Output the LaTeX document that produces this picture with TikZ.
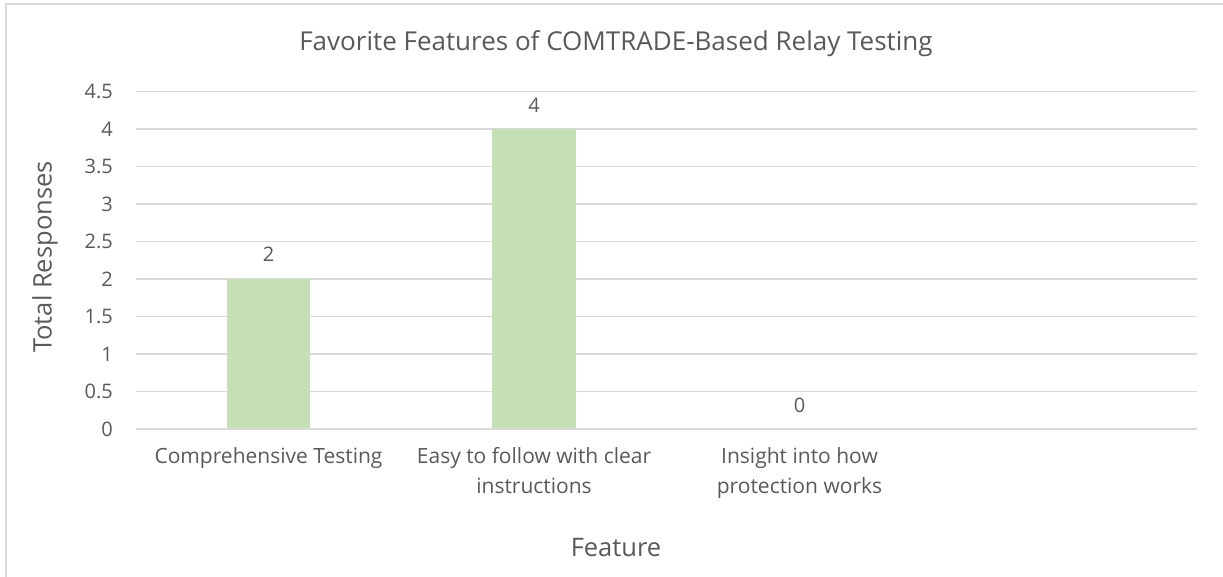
\documentclass[tikz,border=0pt]{standalone}
\usepackage{fontspec}
\setmainfont{Open Sans}
\usetikzlibrary{calc}

\begin{document}
\begin{tikzpicture}[x=1pt,y=-1pt,
    ticklabel/.style={inner sep=0pt, text=axistext, font=\fontsize{20}{24}\selectfont},
    catlabel/.style={inner sep=0pt, anchor=north, align=center, text=axistext, font=\fontsize{21}{30}\selectfont},
    axistitle/.style={inner sep=0pt, text=axistext, font=\fontsize{25.5}{30}\selectfont}]
    % Define colors
    \definecolor{axistext}{RGB}{89,89,89}
    \definecolor{gridline}{RGB}{217,217,217}
    \definecolor{barfill}{RGB}{197,224,180}

    \useasboundingbox (0,0) rectangle (1223,577);

    % Chart frame (cut off at right and bottom)
    \draw[gridline, line width=1.5pt] (6,590) -- (6,4) -- (1235,4);

    % Title
    \node[axistitle, font=\fontsize{26}{30}\selectfont] (title) at (616,44) {Favorite Features of COMTRADE-Based Relay Testing};

    % Gridlines and value axis: 0 to 4.5 in steps of 0.5
    \foreach \i/\lab in {0/0,1/0.5,2/1,3/1.5,4/2,5/2.5,6/3,7/3.5,8/4,9/4.5} {
        \draw[gridline, line width=1.5pt] (136,429-37.5*\i) -- (1197,429-37.5*\i);
        \node[ticklabel, anchor=east] (tick\i) at (113,429-37.5*\i) {\lab};
    }

    % Bars: [2, 4, 0]
    \fill[barfill] (227,428) rectangle (310,279);
    \fill[barfill] (492,428) rectangle (576,129);

    % Data labels
    \node[ticklabel] (val1) at (268.5,254) {2};
    \node[ticklabel] (val2) at (534,105) {4};
    \node[ticklabel] (val3) at (799.5,405) {0};

    % Categories
    \node[catlabel] (cat1) at (268.5,447) {Comprehensive Testing};
    \node[catlabel] (cat2) at (534,447) {Easy to follow with clear\\instructions};
    \node[catlabel] (cat3) at (799.5,447) {Insight into how\\protection works};

    % Axis titles
    \node[axistitle] (xtitle) at (616,548) {Feature};
    \node[axistitle, rotate=90] (ytitle) at (45,257) {Total Responses};

\end{tikzpicture}
\end{document}
